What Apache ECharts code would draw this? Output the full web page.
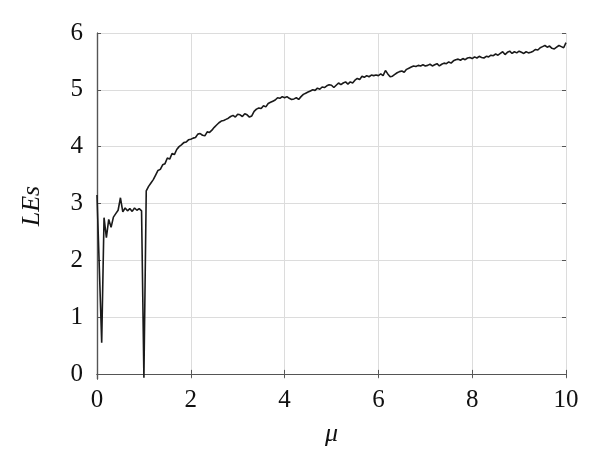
<!DOCTYPE html>
<html>
<head>
<meta charset="utf-8">
<script src="https://cdn.jsdelivr.net/npm/echarts@6/dist/echarts.min.js"></script>
<style>
  html, body { margin: 0; padding: 0; background: #fff; }
  #chart { width: 600px; height: 468px; }
</style>
</head>
<body>
<div id="chart"></div>
<script>
// 横轴 μ
let mu = [
  0.00, 0.05, 0.10, 0.15, 0.20, 0.25, 0.30, 0.35, 0.40, 0.45,
  0.50, 0.55, 0.60, 0.65, 0.70, 0.75, 0.80, 0.85, 0.90, 0.95,
  1.00, 1.05, 1.10, 1.15, 1.20, 1.25, 1.30, 1.35, 1.40, 1.45,
  1.50, 1.55, 1.60, 1.65, 1.70, 1.75, 1.80, 1.85, 1.90, 1.95,
  2.00, 2.05, 2.10, 2.15, 2.20, 2.25, 2.30, 2.35, 2.40, 2.45,
  2.50, 2.55, 2.60, 2.65, 2.70, 2.75, 2.80, 2.85, 2.90, 2.95,
  3.00, 3.05, 3.10, 3.15, 3.20, 3.25, 3.30, 3.35, 3.40, 3.45,
  3.50, 3.55, 3.60, 3.65, 3.70, 3.75, 3.80, 3.85, 3.90, 3.95,
  4.00, 4.05, 4.10, 4.15, 4.20, 4.25, 4.30, 4.35, 4.40, 4.45,
  4.50, 4.55, 4.60, 4.65, 4.70, 4.75, 4.80, 4.85, 4.90, 4.95,
  5.00, 5.05, 5.10, 5.15, 5.20, 5.25, 5.30, 5.35, 5.40, 5.45,
  5.50, 5.55, 5.60, 5.65, 5.70, 5.75, 5.80, 5.85, 5.90, 5.95,
  6.00, 6.05, 6.10, 6.15, 6.20, 6.25, 6.30, 6.35, 6.40, 6.45,
  6.50, 6.55, 6.60, 6.65, 6.70, 6.75, 6.80, 6.85, 6.90, 6.95,
  7.00, 7.05, 7.10, 7.15, 7.20, 7.25, 7.30, 7.35, 7.40, 7.45,
  7.50, 7.55, 7.60, 7.65, 7.70, 7.75, 7.80, 7.85, 7.90, 7.95,
  8.00, 8.05, 8.10, 8.15, 8.20, 8.25, 8.30, 8.35, 8.40, 8.45,
  8.50, 8.55, 8.60, 8.65, 8.70, 8.75, 8.80, 8.85, 8.90, 8.95,
  9.00, 9.05, 9.10, 9.15, 9.20, 9.25, 9.30, 9.35, 9.40, 9.45,
  9.50, 9.55, 9.60, 9.65, 9.70, 9.75, 9.80, 9.85, 9.90, 9.95,
  10.00
]
// 纵轴 LEs
let les = [
  3.15, 1.85, 0.55, 2.75, 2.40, 2.72, 2.58, 2.76, 2.82, 2.88,
  3.10, 2.85, 2.92, 2.87, 2.91, 2.86, 2.92, 2.88, 2.91, 2.87,
  -0.07, 3.22, 3.30, 3.36, 3.42, 3.50, 3.58, 3.60, 3.68, 3.70,
  3.80, 3.78, 3.88, 3.86, 3.95, 4.00, 4.03, 4.07, 4.08, 4.12,
  4.13, 4.15, 4.16, 4.22, 4.23, 4.20, 4.19, 4.26, 4.25, 4.29,
  4.34, 4.38, 4.42, 4.45, 4.46, 4.48, 4.50, 4.53, 4.55, 4.52,
  4.57, 4.56, 4.53, 4.58, 4.56, 4.52, 4.54, 4.62, 4.66, 4.68,
  4.67, 4.72, 4.70, 4.76, 4.78, 4.80, 4.82, 4.86, 4.85, 4.88,
  4.86, 4.88, 4.85, 4.83, 4.84, 4.86, 4.83, 4.88, 4.92, 4.94,
  4.96, 4.98, 5.00, 4.99, 5.03, 5.01, 5.05, 5.04, 5.07, 5.09,
  5.08, 5.04, 5.08, 5.12, 5.09, 5.12, 5.14, 5.10, 5.14, 5.12,
  5.17, 5.20, 5.18, 5.24, 5.22, 5.25, 5.23, 5.26, 5.25, 5.26,
  5.25, 5.28, 5.25, 5.34, 5.28, 5.23, 5.24, 5.27, 5.30, 5.32,
  5.33, 5.31, 5.36, 5.38, 5.40, 5.42, 5.41, 5.43, 5.42, 5.44,
  5.42, 5.43, 5.45, 5.42, 5.44, 5.46, 5.42, 5.45, 5.47, 5.46,
  5.49, 5.47, 5.51, 5.53, 5.54, 5.52, 5.55, 5.53, 5.56, 5.57,
  5.55, 5.58, 5.56, 5.59, 5.57, 5.56, 5.59, 5.58, 5.61, 5.60,
  5.63, 5.61, 5.64, 5.67, 5.62, 5.66, 5.68, 5.64, 5.67, 5.65,
  5.68, 5.66, 5.64, 5.67, 5.65, 5.66, 5.68, 5.71, 5.70, 5.74,
  5.76, 5.78, 5.75, 5.77, 5.73, 5.72, 5.75, 5.78, 5.76, 5.74,
  5.83
]

let font = '"Liberation Serif", "Times New Roman", serif'
let boxColor = '#555'
let gridColor = '#dcdcdc'

let myChart = echarts.init(document.getElementById('chart'))

let options = {
  animation: false,
  backgroundColor: '#fff',
  // grid 0: 外框+数据, grid 1: 纵轴刻度(0 到 6)
  grid: [
    { left: 97, right: 34, top: 33, bottom: 89 },
    { left: 97, right: 34, top: 33, bottom: 94 }
  ],
  xAxis: [
    {
      gridIndex: 0, type: 'value', min: 0, max: 10, interval: 2,
      position: 'bottom',
      name: 'μ', nameLocation: 'middle', nameGap: 42,
      nameTextStyle: { fontFamily: font, fontStyle: 'italic', fontSize: 26, color: '#111' },
      axisLine: { show: true, lineStyle: { color: boxColor, width: 1.2 } },
      axisTick: { show: true, inside: true, length: 4, lineStyle: { color: boxColor } },
      axisLabel: { fontFamily: font, fontSize: 25, color: '#111', margin: 9 },
      splitLine: { show: true, lineStyle: { color: gridColor, width: 1 } }
    },
    {
      gridIndex: 0, type: 'value', min: 0, max: 10, interval: 2,
      position: 'top',
      axisLine: { show: true, lineStyle: { color: boxColor, width: 1.2 } },
      axisTick: { show: true, inside: true, length: 4, lineStyle: { color: boxColor } },
      axisLabel: { show: false },
      splitLine: { show: false }
    },
    {
      gridIndex: 1, type: 'value', min: 0, max: 10, show: false
    }
  ],
  yAxis: [
    {
      gridIndex: 0, type: 'value', min: -0.09, max: 6,
      position: 'left',
      name: 'LEs', nameLocation: 'middle', nameGap: 52,
      nameTextStyle: { fontFamily: font, fontStyle: 'italic', fontSize: 26, color: '#111' },
      axisLine: { show: true, lineStyle: { color: boxColor, width: 1.2 } },
      axisTick: { show: false },
      axisLabel: { show: false },
      splitLine: { show: false }
    },
    {
      gridIndex: 0, type: 'value', min: -0.09, max: 6,
      position: 'right',
      axisLine: { show: true, lineStyle: { color: boxColor, width: 1.2 } },
      axisTick: { show: false },
      axisLabel: { show: false },
      splitLine: { show: false }
    },
    {
      gridIndex: 1, type: 'value', min: 0, max: 6, interval: 1,
      position: 'left',
      axisLine: { show: false },
      axisTick: { show: true, inside: true, length: 4, lineStyle: { color: boxColor } },
      axisLabel: { fontFamily: font, fontSize: 25, color: '#111', margin: 14 },
      splitLine: { show: true, lineStyle: { color: gridColor, width: 1 } }
    },
    {
      gridIndex: 1, type: 'value', min: 0, max: 6, interval: 1,
      position: 'right',
      axisLine: { show: false },
      axisTick: { show: true, inside: true, length: 4, lineStyle: { color: boxColor } },
      axisLabel: { show: false },
      splitLine: { show: false }
    }
  ],
  series: [
    {
      type: 'line',
      xAxisIndex: 0,
      yAxisIndex: 0,
      data: mu.map((x, i) => [x, les[i]]),
      showSymbol: false,
      lineStyle: { color: '#1a1a1a', width: 1.6 },
      z: 5
    }
  ]
}

myChart.setOption(options)
</script>
</body>
</html>
